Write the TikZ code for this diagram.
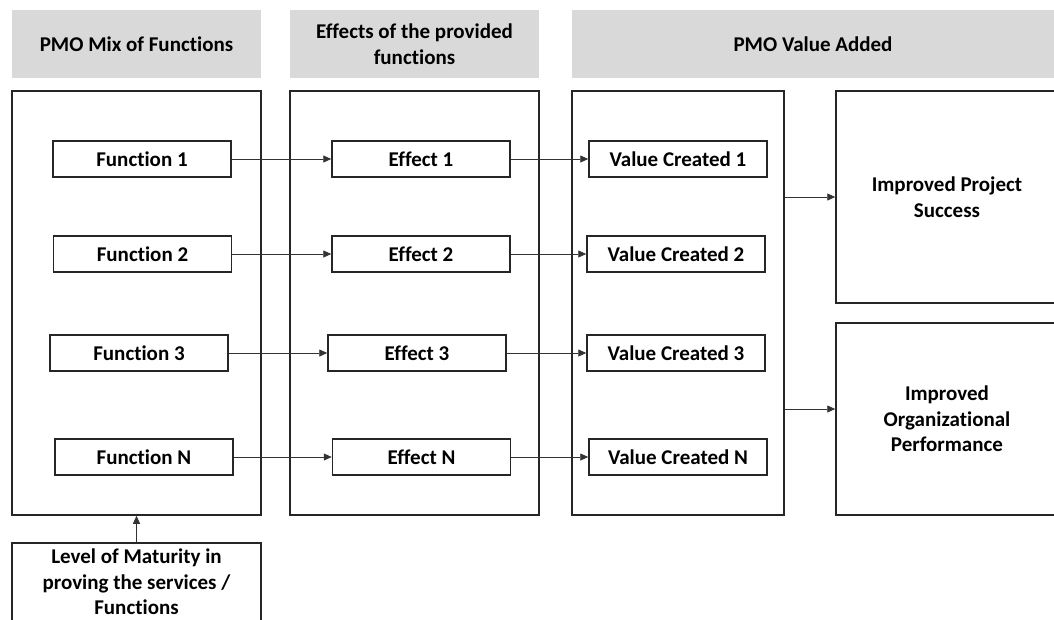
\documentclass[tikz,border=0pt]{standalone}
\usepackage{fontspec}
\setmainfont{Carlito}[Ligatures=NoCommon]
\usetikzlibrary{arrows.meta}
\definecolor{hdr}{RGB}{217,217,217}

\begin{document}
\begin{tikzpicture}[x=1pt, y=-1pt, font=\bfseries\fontsize{21}{25.5}\selectfont,
    main/.style = {draw=black!85, rectangle, line width=1.5pt, minimum width=178pt, minimum height=36pt, inner sep=0pt},
    big/.style = {draw=black!85, rectangle, line width=1.5pt, inner sep=0pt, align=center},
    head/.style = {fill=hdr, rectangle, inner sep=0pt, minimum height=68pt, align=center},
    arr/.style = {-{Triangle[length=8pt,width=7pt]}, line width=0.8pt, black!80}]
    \useasboundingbox (0,0) rectangle (1054,619);
    % headers
    \node[head, minimum width=249pt] (hd1) at (136.5,44) {PMO Mix of Functions};
    \node[head, minimum width=249pt] (hd2) at (414.5,44) {Effects of the provided\\functions};
    \node[head, minimum width=482pt] (hd3) at (813,44) {PMO Value Added};
    % columns
    \node[big, minimum width=249pt, minimum height=424pt] (col1) at (136.5,303) {};
    \node[big, minimum width=249pt, minimum height=424pt] (col2) at (414.5,303) {};
    \node[big, minimum width=212pt, minimum height=424pt] (col3) at (678,303) {};
    \node[big, minimum width=222pt, minimum height=212pt] (out1) at (947,197) {Improved Project\\Success};
    \node[big, minimum width=222pt, minimum height=192pt] (out2) at (947,419) {Improved\\Organizational\\Performance};
    \node[big, minimum width=249pt, minimum height=78pt] (mat) at (136.5,582) {Level of Maturity in\\proving the services /\\Functions};
    % functions
    \node[main] (f1) at (142,159) {Function 1};
    \node[main] (f2) at (142.5,254) {Function 2};
    \node[main] (f3) at (139,353) {Function 3};
    \node[main] (fN) at (144,457) {Function N};
    % effects
    \node[main] (e1) at (421,159) {Effect 1};
    \node[main] (e2) at (421,254) {Effect 2};
    \node[main] (e3) at (417,353) {Effect 3};
    \node[main] (eN) at (421.5,457) {Effect N};
    % values
    \node[main] (v1) at (678,159) {Value Created 1};
    \node[main] (v2) at (676,254) {Value Created 2};
    \node[main] (v3) at (676,353) {Value Created 3};
    \node[main] (vN) at (678,457) {Value Created N};
    \coordinate (j2) at (810,409);
    \draw[arr] (f1) -- (e1);
    \draw[arr] (f2) -- (e2);
    \draw[arr] (f3) -- (e3);
    \draw[arr] (fN) -- (eN);
    \draw[arr] (e1) -- (v1);
    \draw[arr] (e2) -- (v2);
    \draw[arr] (e3) -- (v3);
    \draw[arr] (eN) -- (vN);
    \draw[arr] (col3.east |- out1) -- (out1);
    \draw[arr] (col3.east |- j2) -- (out2.west |- j2);
    \draw[arr] (mat) -- (col1);
\end{tikzpicture}
\end{document}
